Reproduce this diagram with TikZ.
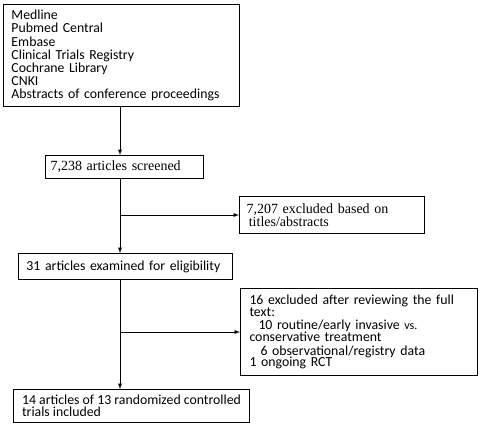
\documentclass[tikz,border=0pt]{standalone}
\usepackage{fontspec}
\setmainfont{Carlito}
\newfontfamily\timesfont{Liberation Serif}
\usetikzlibrary{positioning,arrows}
\begin{document}
\begin{tikzpicture}[x=1pt,y=-1pt, box/.style={draw,line width=1pt,anchor=north west,align=left,inner ysep=0pt,font=\fontsize{13.8}{13.1}\selectfont},arr/.style={->,>=latex,line width=0.9pt}]
\useasboundingbox (0,0) rectangle (480,424);
\coordinate (spine) at (120,0);
\node[box,inner xsep=8pt,text width=220pt,minimum width=236pt,minimum height=102pt] (src) at (3,4) {Medline\\Pubmed Central\\Embase\\Clinical Trials Registry\\Cochrane Library\\CNKI\\Abstracts of conference proceedings};
\node[box,inner xsep=5pt,text width=148pt,minimum width=158pt,minimum height=23pt,font=\timesfont\fontsize{14}{13}\selectfont] (scr) at (45,155) {7,238 articles screened};
\node[box,inner xsep=7pt,text width=171pt,minimum width=185pt,minimum height=37pt,font=\timesfont\fontsize{14}{13}\selectfont] (ex1) at (239,196) {7,207 excluded based on\\\,titles/abstracts};
\node[box,inner xsep=8pt,text width=198pt,minimum width=214pt,minimum height=26pt] (elig) at (18,253) {31 articles examined for eligibility};
\node[box,inner xsep=9pt,text width=219pt,minimum width=237pt,minimum height=87pt,font=\fontsize{13.8}{12.3}\selectfont] (ex2) at (240,288) {\makebox[219pt][s]{16 excluded after reviewing the full}\\[0pt]text:\\[0.7pt]\hspace*{9pt}\makebox[191pt][s]{10 routine/early invasive {\fontsize{12}{12}\selectfont vs.}}\\[-1pt]conservative treatment\\[1.7pt]\hspace*{11pt}6 observational/registry data\\[-1pt]1 ongoing RCT};
\node[box,inner xsep=6.5pt,minimum width=236pt,minimum height=33pt,font=\fontsize{13.8}{12.3}\selectfont] (incl) at (13,389) {14 articles of 13 randomized controlled\\trials included};
\draw[arr] (src.south -| spine) -- (scr.north -| spine);
\draw[arr] (scr.south -| spine) -- (elig.north -| spine);
\draw[arr] (ex1.west -| spine) -- (ex1.west);
\draw[arr] (elig.south -| spine) -- (incl.north -| spine);
\draw[arr] (ex2.west -| spine) -- (ex2.west);
\end{tikzpicture}
\end{document}
